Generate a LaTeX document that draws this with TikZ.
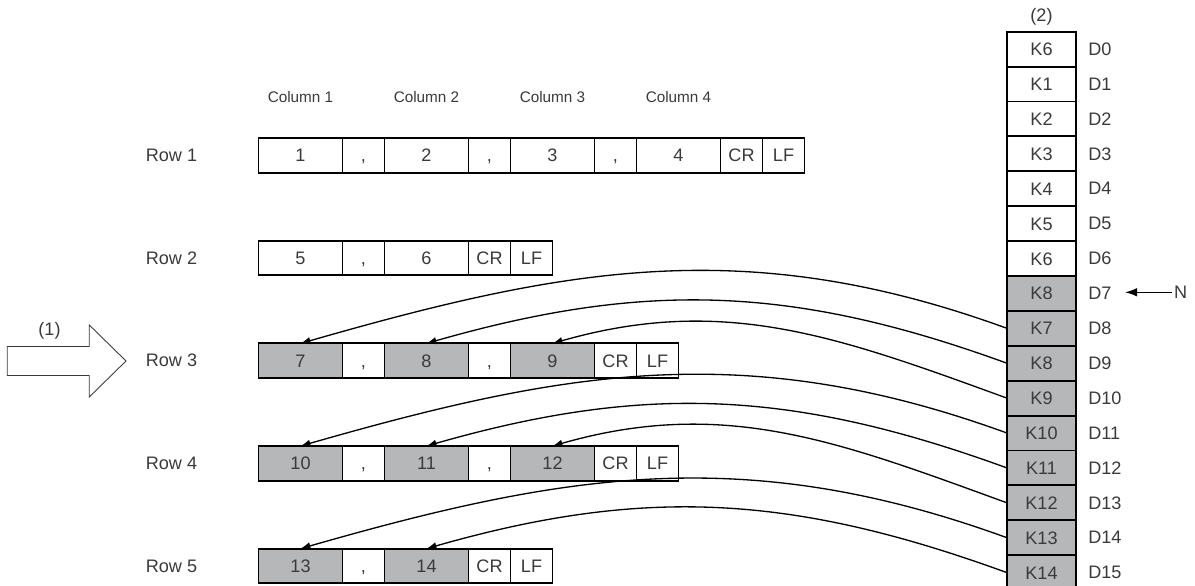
\documentclass[tikz,border=0pt]{standalone}
\usepackage{fontspec}
\setmainfont{Liberation Sans}
\usepackage{tikz}
\usepackage{xcolor}
\usetikzlibrary{arrows.meta,positioning}
\definecolor{ink}{HTML}{000000}
\definecolor{inkgray}{HTML}{3A3A3A}
\definecolor{cellgray}{HTML}{B6B7B9}
\tikzset{
  numbox/.style={draw=ink,fill=white,line width=1.1pt,
                 minimum width=1.68cm,minimum height=0.69cm,
                 inner sep=0pt,outer sep=0pt,text=inkgray,
                 text height=7.4pt,text depth=0pt,
                 font=\fontsize{10.3}{12}\selectfont},
  sepbox/.style={numbox,minimum width=0.84cm},
  databox/.style={numbox,fill=cellgray},
  regbox/.style={numbox,minimum width=1.38cm,minimum height=0.698cm},
  regdata/.style={regbox,fill=cellgray},
  plainlbl/.style={inner sep=0pt,text=inkgray,font=\fontsize{10.3}{12}\selectfont},
  headlbl/.style={inner sep=0pt,text=inkgray,font=\fontsize{8.7}{10}\selectfont},
  copyarr/.style={-{Latex[length=2mm,width=1.5mm]},line width=0.75pt,draw=ink},
  ptrarr/.style={-{Latex[length=2.4mm,width=1.7mm]},line width=0.75pt,draw=ink}
}

\begin{document}
\begin{tikzpicture}
  \useasboundingbox (0,0) rectangle (23.9,11.72);

  % row 1
  \node[numbox,anchor=west] (r1n1) at (5.17,8.61) {1};
  \node[sepbox,right=0pt of r1n1] (r1k1) {,};
  \node[numbox,right=0pt of r1k1] (r1n2) {2};
  \node[sepbox,right=0pt of r1n2] (r1k2) {,};
  \node[numbox,right=0pt of r1k2] (r1n3) {3};
  \node[sepbox,right=0pt of r1n3] (r1k3) {,};
  \node[numbox,right=0pt of r1k3] (r1n4) {4};
  \node[sepbox,right=0pt of r1n4] (r1cr) {CR};
  \node[sepbox,right=0pt of r1cr] (r1lf) {LF};

  % row 2
  \node[numbox,anchor=west] (r2n1) at (5.17,6.558) {5};
  \node[sepbox,right=0pt of r2n1] (r2k1) {,};
  \node[numbox,right=0pt of r2k1] (r2n2) {6};
  \node[sepbox,right=0pt of r2n2] (r2cr) {CR};
  \node[sepbox,right=0pt of r2cr] (r2lf) {LF};

  % row 3
  \node[databox,anchor=west] (r3n1) at (5.17,4.506) {7};
  \node[sepbox,right=0pt of r3n1] (r3k1) {,};
  \node[databox,right=0pt of r3k1] (r3n2) {8};
  \node[sepbox,right=0pt of r3n2] (r3k2) {,};
  \node[databox,right=0pt of r3k2] (r3n3) {9};
  \node[sepbox,right=0pt of r3n3] (r3cr) {CR};
  \node[sepbox,right=0pt of r3cr] (r3lf) {LF};

  % row 4
  \node[databox,anchor=west] (r4n1) at (5.17,2.454) {10};
  \node[sepbox,right=0pt of r4n1] (r4k1) {,};
  \node[databox,right=0pt of r4k1] (r4n2) {11};
  \node[sepbox,right=0pt of r4n2] (r4k2) {,};
  \node[databox,right=0pt of r4k2] (r4n3) {12};
  \node[sepbox,right=0pt of r4n3] (r4cr) {CR};
  \node[sepbox,right=0pt of r4cr] (r4lf) {LF};

  % row 5
  \node[databox,anchor=west] (r5n1) at (5.17,0.402) {13};
  \node[sepbox,right=0pt of r5n1] (r5k1) {,};
  \node[databox,right=0pt of r5k1] (r5n2) {14};
  \node[sepbox,right=0pt of r5n2] (r5cr) {CR};
  \node[sepbox,right=0pt of r5cr] (r5lf) {LF};

  \node[plainlbl,left=1.22cm of r1n1] (row1) {Row 1};
  \node[plainlbl,left=1.22cm of r2n1] (row2) {Row 2};
  \node[plainlbl,left=1.22cm of r3n1] (row3) {Row 3};
  \node[plainlbl,left=1.22cm of r4n1] (row4) {Row 4};
  \node[plainlbl,left=1.22cm of r5n1] (row5) {Row 5};

  \node[headlbl,above=0.71cm of r1n1] (col1) {Column 1};
  \node[headlbl,above=0.71cm of r1n2] (col2) {Column 2};
  \node[headlbl,above=0.71cm of r1n3] (col3) {Column 3};
  \node[headlbl,above=0.71cm of r1n4] (col4) {Column 4};

  % register column
  \node[regbox] (d0) at (20.83,10.737) {K6};
  \node[regbox,below=0pt of d0] (d1) {K1};
  \node[regbox,below=0pt of d1] (d2) {K2};
  \node[regbox,below=0pt of d2] (d3) {K3};
  \node[regbox,below=0pt of d3] (d4) {K4};
  \node[regbox,below=0pt of d4] (d5) {K5};
  \node[regbox,below=0pt of d5] (d6) {K6};
  \node[regdata,below=0pt of d6] (d7) {K8};
  \node[regdata,below=0pt of d7] (d8) {K7};
  \node[regdata,below=0pt of d8] (d9) {K8};
  \node[regdata,below=0pt of d9] (d10) {K9};
  \node[regdata,below=0pt of d10] (d11) {K10};
  \node[regdata,below=0pt of d11] (d12) {K11};
  \node[regdata,below=0pt of d12] (d13) {K12};
  \node[regdata,below=0pt of d13] (d14) {K13};
  \node[regdata,below=0pt of d14] (d15) {K14};

  \node[plainlbl,right=0.24cm of d0] (l0) {D0};
  \node[plainlbl,right=0.24cm of d1] (l1) {D1};
  \node[plainlbl,right=0.24cm of d2] (l2) {D2};
  \node[plainlbl,right=0.24cm of d3] (l3) {D3};
  \node[plainlbl,right=0.24cm of d4] (l4) {D4};
  \node[plainlbl,right=0.24cm of d5] (l5) {D5};
  \node[plainlbl,right=0.24cm of d6] (l6) {D6};
  \node[plainlbl,right=0.24cm of d7] (l7) {D7};
  \node[plainlbl,right=0.24cm of d8] (l8) {D8};
  \node[plainlbl,right=0.24cm of d9] (l9) {D9};
  \node[plainlbl,right=0.24cm of d10] (l10) {D10};
  \node[plainlbl,right=0.24cm of d11] (l11) {D11};
  \node[plainlbl,right=0.24cm of d12] (l12) {D12};
  \node[plainlbl,right=0.24cm of d13] (l13) {D13};
  \node[plainlbl,right=0.24cm of d14] (l14) {D14};
  \node[plainlbl,right=0.24cm of d15] (l15) {D15};

  \node[plainlbl,above=0.12cm of d0] (regtag) {(2)};

  % pointer
  \node[plainlbl,anchor=west,inner sep=1pt] (nptr) at (23.44,5.874) {N};
  \coordinate (ntip) at (22.5,5.874);
  \draw[ptrarr] (nptr.west) -- (ntip);

  % input arrow
  \draw[line width=0.5pt,draw=inkgray] (0.146,4.21) -- (1.786,4.21) -- (1.786,3.78)
    -- (2.52,4.50) -- (1.786,5.22) -- (1.786,4.79) -- (0.146,4.79) -- cycle;
  \node[plainlbl] (intag) at (0.99,5.11) {(1)};

  % copies
  \draw[copyarr] (d8.west) to[out=160,in=16] (r3n1.north);
  \draw[copyarr] (d9.west) to[out=160,in=16] (r3n2.north);
  \draw[copyarr] (d10.west) to[out=160,in=16] (r3n3.north);
  \draw[copyarr] (d11.west) to[out=160,in=16] (r4n1.north);
  \draw[copyarr] (d12.west) to[out=160,in=16] (r4n2.north);
  \draw[copyarr] (d13.west) to[out=160,in=16] (r4n3.north);
  \draw[copyarr] (d14.west) to[out=160,in=16] (r5n1.north);
  \draw[copyarr] (d15.west) to[out=160,in=16] (r5n2.north);
\end{tikzpicture}
\end{document}
